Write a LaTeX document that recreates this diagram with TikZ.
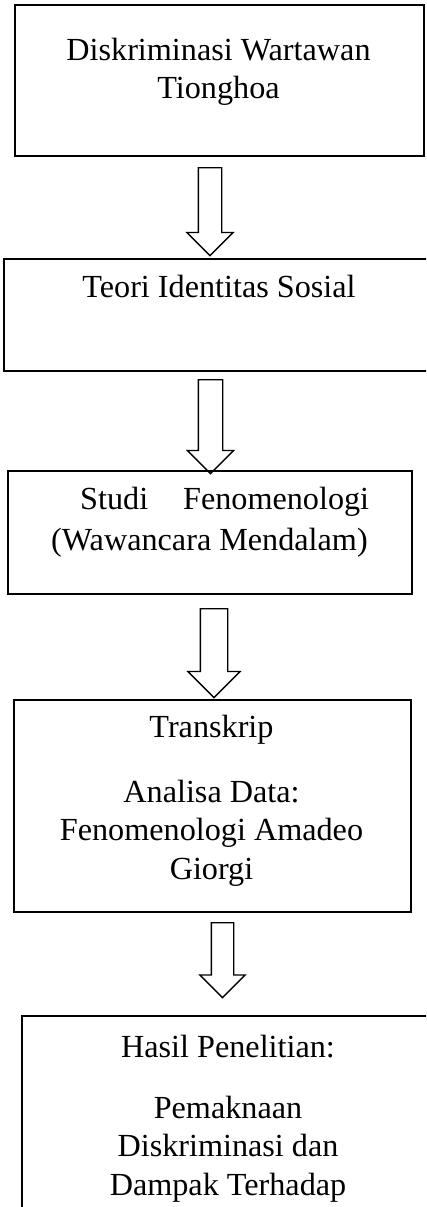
\documentclass[tikz,border=0pt]{standalone}
\usepackage{fontspec}
\setmainfont{Liberation Serif}
\usetikzlibrary{shapes.arrows, positioning}

\begin{document}
\begin{tikzpicture}[x=1pt,y=-1pt,
  box/.style={draw=black,line width=1.8pt,inner sep=0pt,anchor=north west},
  txt/.style={inner sep=0pt,align=center,anchor=base,
              font=\fontsize{32.2}{38.5}\selectfont},
  blockarrow/.style={single arrow,draw=black,line width=1.3pt,rotate=-90,
                     inner xsep=0pt,single arrow tip angle=90,anchor=tail}]

\useasboundingbox (0,0) rectangle (426,1207);
\fill[white] (0,0) rectangle (426,1207);
\clip (0,0) rectangle (426,1207);

% boxes
\node[box,minimum width=409pt,minimum height=151pt] (diskriminasi) at (14,4) {};
\node[box,minimum width=432pt,minimum height=112pt] (teori) at (3,258) {};
\node[box,minimum width=404pt,minimum height=123pt] (studi) at (7,470) {};
\node[box,minimum width=397pt,minimum height=212pt] (transkrip) at (13,699) {};
\node[box,minimum width=414pt,minimum height=240pt] (hasil) at (21,1015) {};

% texts (anchored at the baseline of the last line)
\node[txt] (diskriminasiTxt) at (218.5,99) {Diskriminasi Wartawan\\Tionghoa};
\node[txt] (teoriTxt) at (219,297) {Teori Identitas Sosial};
\node[txt,align=left,anchor=base west] (studiTxt) at (51,550)
  {\hspace*{29pt}\makebox[289pt]{Studi\hfill Fenomenologi}\\[2.5pt]
   (Wawancara Mendalam)};
\node[txt] (transkripTxt) at (211.5,879)
  {Transkrip\\[26.5pt]Analisa Data:\\Fenomenologi Amadeo\\Giorgi};
\node[txt] (hasilTxt) at (228,1195)
  {Hasil Penelitian:\\[22.5pt]Pemaknaan\\Diskriminasi dan\\Dampak Terhadap};

% arrows
\node[blockarrow,inner ysep=11pt,single arrow head extend=11.5pt,
      minimum height=88pt] (arrA) at (210,167) {};
\node[blockarrow,inner ysep=11.5pt,single arrow head extend=11pt,
      minimum height=94pt] (arrB) at (210.5,379) {};
\node[blockarrow,inner ysep=13pt,single arrow head extend=12.5pt,
      minimum height=89pt] (arrC) at (214,608) {};
\node[blockarrow,inner ysep=10.5pt,single arrow head extend=11.5pt,
      minimum height=75pt] (arrD) at (222.5,922) {};
\end{tikzpicture}
\end{document}
